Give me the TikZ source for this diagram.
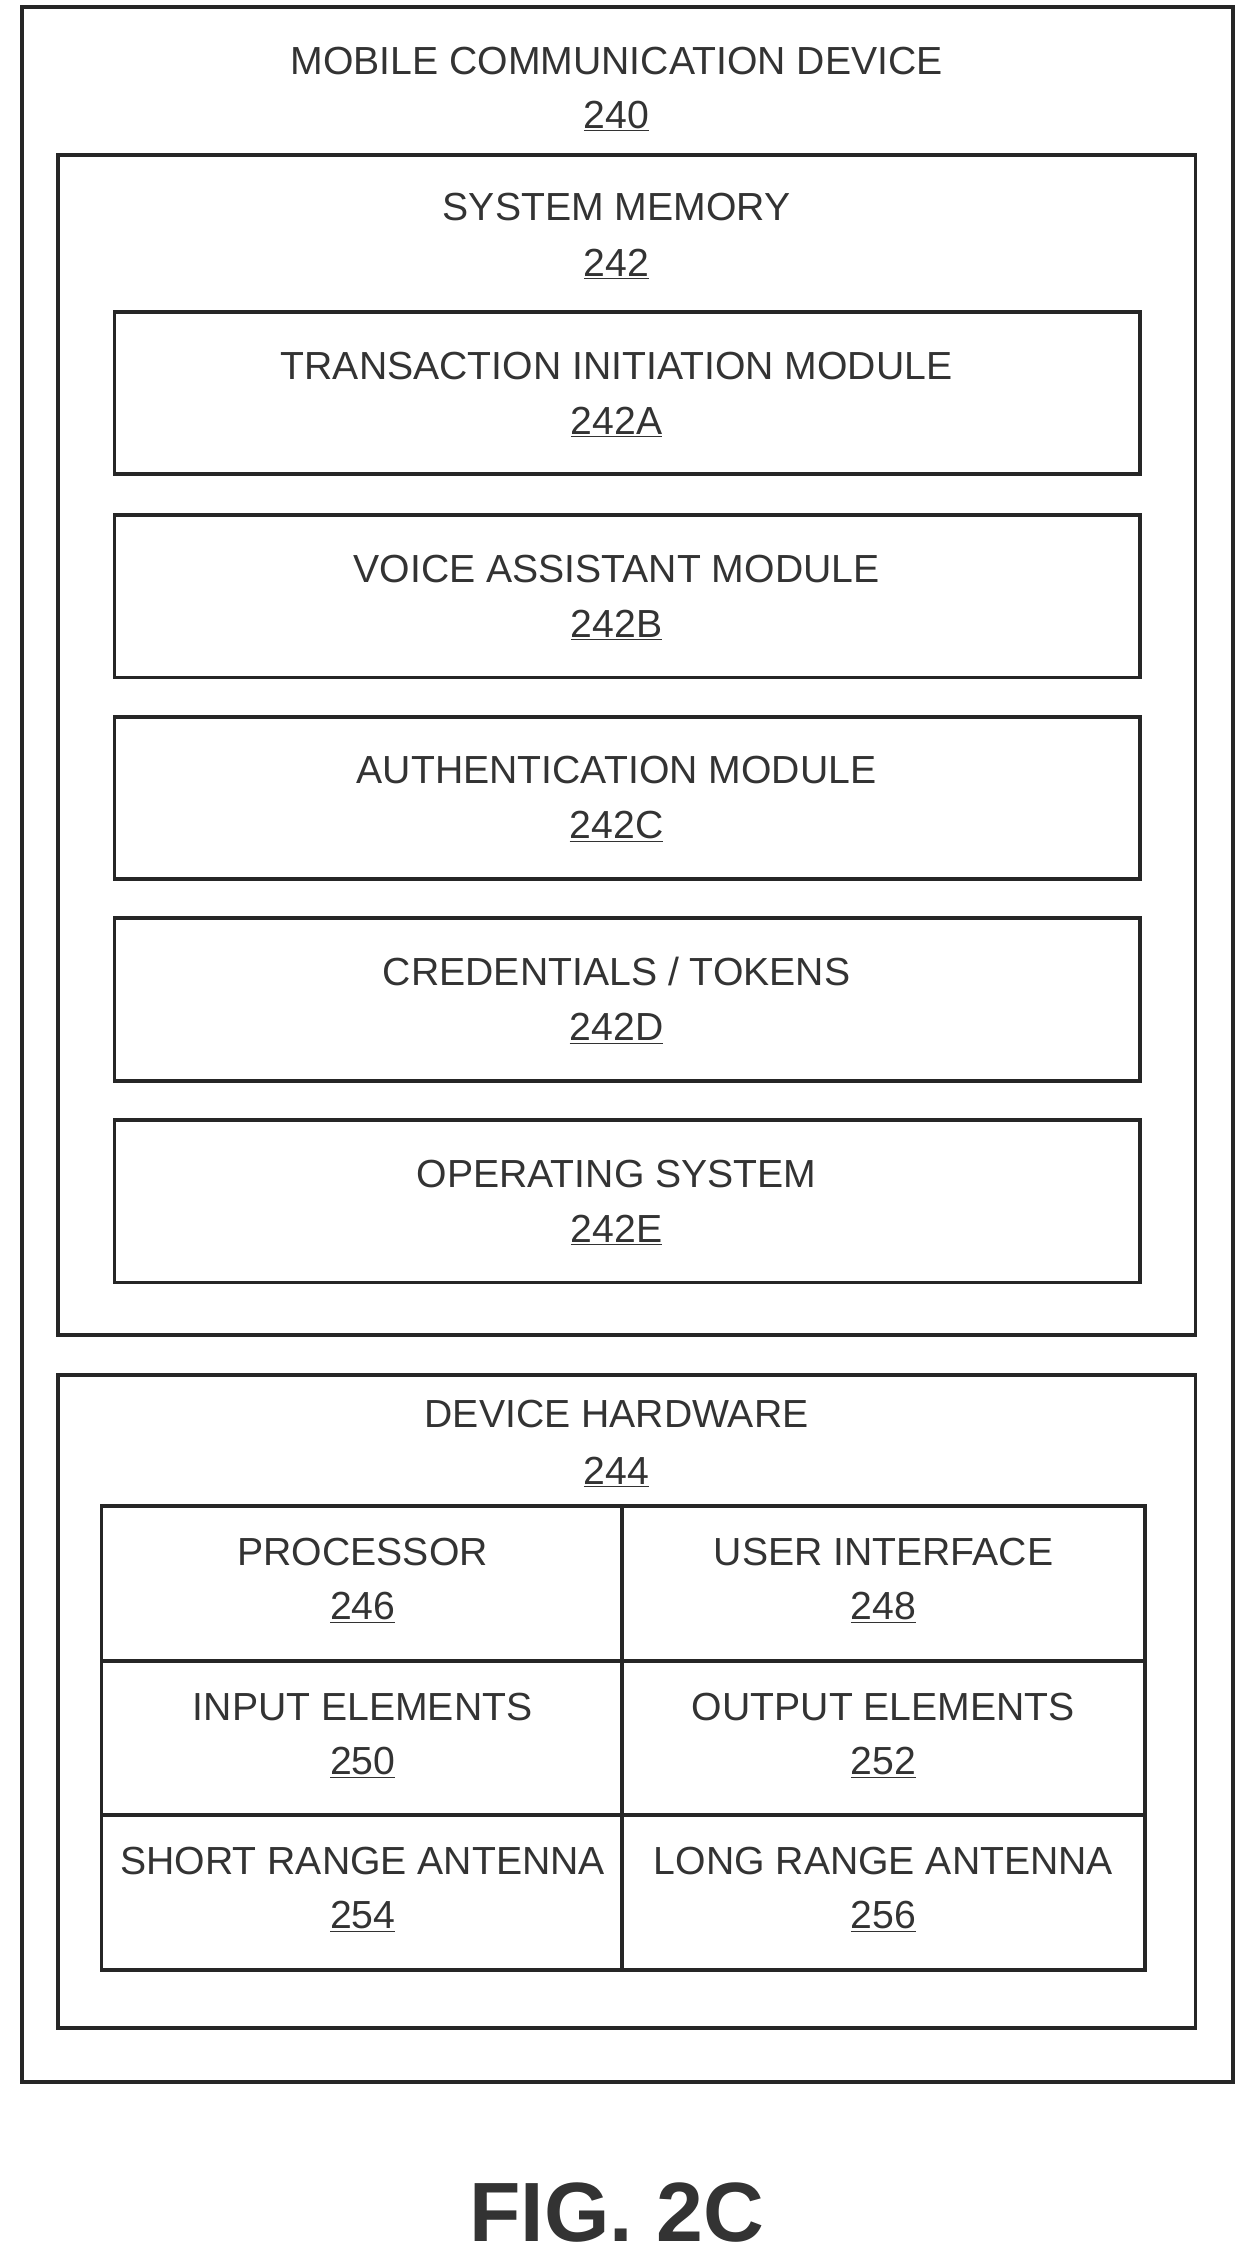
\documentclass[tikz,border=0pt]{standalone}
\usepackage{fontspec}
\setmainfont{Liberation Sans}
\begin{document}
\begin{tikzpicture}[x=1pt,y=-1pt,
  box/.style={draw=black!85,line width=2.6pt},
  lbl/.style={font=\fontsize{27}{29}\selectfont,text=black!80,align=center,inner sep=0pt}]
\useasboundingbox (0,0) rectangle (862,1562);
\draw[box] (15,5) rectangle (850,1435);
\node[lbl] (t240) at (425,42) {MOBILE COMMUNICATION DEVICE};
\node[lbl] (n240) at (425,80) {\underline{240}};
\draw[box] (40,107) rectangle (824,920);
\node[lbl] (t242) at (425,143) {SYSTEM MEMORY};
\node[lbl] (n242) at (425,182) {\underline{242}};
\foreach \t/\n/\y in {TRANSACTION INITIATION MODULE/242A/215, VOICE ASSISTANT MODULE/242B/355, AUTHENTICATION MODULE/242C/494, {CREDENTIALS / TOKENS}/242D/633, OPERATING SYSTEM/242E/772}{
  \draw[box] (79,\y) rectangle (786,\y+112);
  \node[lbl] (t\n) at (425,\y+37) {\t};
  \node[lbl] (n\n) at (425,\y+76) {\underline{\n}};
}
\draw[box] (40,948) rectangle (824,1398);
\node[lbl] (t244) at (425,975) {DEVICE HARDWARE};
\node[lbl] (n244) at (425,1015) {\underline{244}};
\draw[box] (70,1038) rectangle (789,1358);
\draw[box] (429,1038) -- (429,1358);
\draw[box] (70,1145) -- (789,1145);
\draw[box] (70,1251) -- (789,1251);
\foreach \t/\n/\x/\y in {PROCESSOR/246/250/1038, USER INTERFACE/248/609/1038, INPUT ELEMENTS/250/250/1145, OUTPUT ELEMENTS/252/609/1145, SHORT RANGE ANTENNA/254/250/1251, LONG RANGE ANTENNA/256/609/1251}{
  \node[lbl] (t\n) at (\x,\y+32) {\t};
  \node[lbl] (n\n) at (\x,\y+70) {\underline{\n}};
}
\node[font=\fontsize{58}{60}\selectfont\bfseries,text=black!80] (fig) at (425,1525) {FIG. 2C};
\end{tikzpicture}
\end{document}
